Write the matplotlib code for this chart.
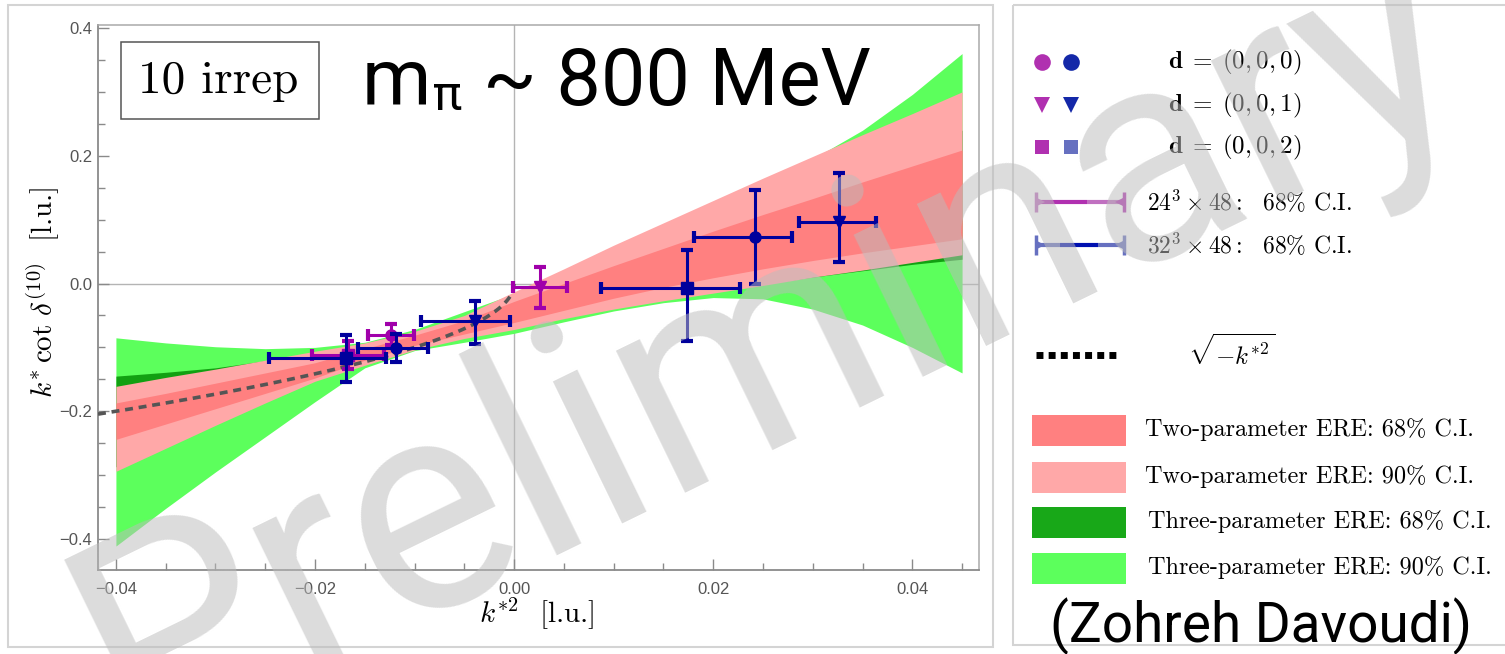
import numpy as np
import matplotlib
matplotlib.use('Agg')
import matplotlib.pyplot as plt
from matplotlib.patches import Rectangle
from matplotlib.ticker import MultipleLocator

plt.rcParams['mathtext.fontset'] = 'cm'

# k*^2 grid on which the ERE confidence bands are tabulated
k2_band = [-0.04, -0.035, -0.03, -0.025, -0.02, -0.015, -0.01, -0.005, 0.0,
           0.005, 0.01, 0.015, 0.02, 0.025, 0.03, 0.035, 0.04, 0.045]

# two-parameter ERE bands
ere2_68_hi = [-0.187, -0.172, -0.156, -0.140, -0.124, -0.102, -0.081, -0.058, -0.028,
              0.000, 0.028, 0.055, 0.082, 0.108, 0.133, 0.159, 0.184, 0.209]
ere2_68_lo = [-0.244, -0.220, -0.196, -0.172, -0.148, -0.120, -0.097, -0.079, -0.061,
              -0.042, -0.023, -0.006, 0.009, 0.023, 0.036, 0.048, 0.059, 0.070]
ere2_90_hi = [-0.161, -0.147, -0.134, -0.120, -0.106, -0.093, -0.075, -0.050, -0.013,
              0.023, 0.060, 0.095, 0.130, 0.165, 0.199, 0.233, 0.266, 0.300]
ere2_90_lo = [-0.294, -0.258, -0.222, -0.187, -0.153, -0.128, -0.104, -0.086, -0.072,
              -0.055, -0.040, -0.027, -0.015, -0.003, 0.010, 0.021, 0.033, 0.045]

# three-parameter ERE bands
ere3_68_hi = [-0.145, -0.139, -0.132, -0.121, -0.112, -0.098, -0.078, -0.052, -0.024,
              0.004, 0.033, 0.062, 0.092, 0.122, 0.152, 0.182, 0.212, 0.240]
ere3_68_lo = [-0.287, -0.252, -0.217, -0.183, -0.150, -0.122, -0.100, -0.083, -0.068,
              -0.054, -0.038, -0.024, -0.012, -0.001, 0.010, 0.020, 0.030, 0.038]
ere3_90_hi = [-0.085, -0.093, -0.099, -0.102, -0.100, -0.092, -0.072, -0.044, -0.016,
              0.015, 0.048, 0.082, 0.118, 0.155, 0.195, 0.240, 0.296, 0.360]
ere3_90_lo = [-0.411, -0.352, -0.295, -0.240, -0.185, -0.132, -0.105, -0.092, -0.078,
              -0.060, -0.043, -0.030, -0.022, -0.024, -0.040, -0.065, -0.100, -0.140]

# 24^3 x 48 ensemble
m_k2 = [-0.0167, -0.0124, 0.0026]
m_kcot = [-0.1125, -0.080, -0.006]
m_k2_err = [0.0036, 0.0023, 0.0027]
m_kcot_err = [0.022, 0.017, 0.032]
m_marker = ['s', 'o', 'v']

# 32^3 x 48 ensemble
b_k2 = [-0.0169, -0.0119, -0.0039, 0.0174, 0.0242, 0.0326]
b_kcot = [-0.117, -0.1016, -0.059, -0.0075, 0.0734, 0.097]
b_k2_lo = [0.0077, 0.0038, 0.0055, 0.0087, 0.0061, 0.0040]
b_k2_hi = [0.0040, 0.0032, 0.0035, 0.0053, 0.0037, 0.0038]
b_kcot_lo = [0.037, 0.021, 0.035, 0.082, 0.0734, 0.064]
b_kcot_hi = [0.037, 0.023, 0.031, 0.060, 0.0734, 0.076]
b_marker = ['s', 'o', 'v', 's', 'o', 'v']

xtick_vals = [-0.04, -0.02, 0.0, 0.02, 0.04]
xtick_labels = ['\u22120.04', '\u22120.02', '0.00', '0.02', '0.04']
ytick_vals = [-0.4, -0.2, 0.0, 0.2, 0.4]
ytick_labels = ['\u22120.4', '\u22120.2', '0.0', '0.2', '0.4']

c_red = '#ff8080'
c_pink = '#ffa8a8'
c_dgreen = '#12a012'
c_lgreen = '#5cff5c'
c_mag = '#a000aa'
c_blue = '#00009c'

sans = 'Roboto'

W, H = 1505, 654
fig = plt.figure(figsize=(W / 100, H / 100), dpi=100)

ax = fig.add_axes([98 / W, 1 - 570 / H, (979 - 98) / W, (570 - 25) / H])
ax.set_xlim(-0.0418, 0.0467)
ax.set_ylim(-0.4485, 0.4047)

ax.fill_between(k2_band, ere3_90_lo, ere3_90_hi, color=c_lgreen, lw=0, zorder=1)
ax.fill_between(k2_band, ere3_68_lo, ere3_68_hi, color=c_dgreen, lw=0, zorder=1.1)
ax.fill_between(k2_band, ere2_90_lo, ere2_90_hi, color=c_pink, lw=0, zorder=1.2)
ax.fill_between(k2_band, ere2_68_lo, ere2_68_hi, color=c_red, lw=0, zorder=1.3)

ax.axhline(0, color='#b4b4b4', lw=1, zorder=0.5)
ax.axvline(0, color='#b4b4b4', lw=1, zorder=0.5)

# -sqrt(-k^2) curve below threshold
kk = np.linspace(-0.0418, 0.0, 300)
ax.plot(kk, -np.sqrt(-kk), color='#555555', lw=2.6, dashes=[2.2, 1.6], zorder=3)

for x, y, xe, ye, mk in zip(m_k2, m_kcot, m_k2_err, m_kcot_err, m_marker):
    ax.errorbar(x, y, xerr=xe, yerr=ye, fmt=mk, color=c_mag, ms=8,
                elinewidth=2.2, capsize=4, capthick=3, zorder=4)
for i in range(len(b_k2)):
    ax.errorbar(b_k2[i], b_kcot[i], xerr=[[b_k2_lo[i]], [b_k2_hi[i]]],
                yerr=[[b_kcot_lo[i]], [b_kcot_hi[i]]], fmt=b_marker[i], color=c_blue,
                ms=8, elinewidth=2.2, capsize=4, capthick=3, zorder=5)

ax.set_xticks(xtick_vals)
ax.set_xticklabels(xtick_labels)
ax.set_yticks(ytick_vals)
ax.set_yticklabels(ytick_labels)
ax.xaxis.set_minor_locator(MultipleLocator(0.005))
ax.yaxis.set_minor_locator(MultipleLocator(0.05))
ax.tick_params(which='both', direction='in', color='#8a8a8a', width=1,
               top=False, right=False, labelsize=12, labelcolor='#555555')
ax.tick_params(which='major', length=8)
ax.tick_params(which='minor', length=5)
ax.tick_params(axis='x', pad=9)
ax.tick_params(axis='y', pad=4)
for lab in ax.get_xticklabels() + ax.get_yticklabels():
    lab.set_family('Liberation Sans')
for s in ['left', 'bottom']:
    ax.spines[s].set_color('#8a8a8a')
    ax.spines[s].set_linewidth(1.3)
for s in ['top', 'right']:
    ax.spines[s].set_color('#aaaaaa')
    ax.spines[s].set_linewidth(1.1)

# overlay in pixel coordinates for annotations and the legend panel
ov = fig.add_axes([0, 0, 1, 1], zorder=10)
ov.set_xlim(0, W)
ov.set_ylim(H, 0)
ov.axis('off')
ov.patch.set_alpha(0)

ov.add_patch(Rectangle((8, 5), 985, 642, fill=False, ec='#d4d4d4', lw=1.5))
ov.add_patch(Rectangle((1013, 5), 500, 640, fill=False, ec='#d4d4d4', lw=1.5))

ov.text(537, 613, r'$k^{*2}$  [l.u.]', family='cmr10', fontsize=21,
        ha='center', va='center')
ov.text(43, 292, r'$k^{*}\,\cot\,\delta^{(10)}$  [l.u.]', family='cmr10',
        fontsize=21, rotation=90, ha='center', va='center')

ov.add_patch(Rectangle((121, 42), 198, 77, fill=False, ec='#555555', lw=1.1))
ov.text(218, 93, '10 irrep', family='cmr10', fontsize=34, ha='center', va='baseline')

ov.text(362, 105, 'm', family=sans, fontsize=57, va='baseline')
ov.text(433, 110, '\u03c0', family=sans, fontsize=35, va='baseline')
ov.text(483, 105, '~ 800 MeV', family=sans, fontsize=57, va='baseline')

# legend panel
leg_mag = '#b030b0'
leg_blue = '#1428a8'
leg_lblue = '#6670c0'
ov.plot([1042], [62], 'o', color=leg_mag, ms=12, mew=0)
ov.plot([1071], [62], 'o', color=leg_blue, ms=12, mew=0)
ov.plot([1042], [105], 'v', color=leg_mag, ms=11, mew=0)
ov.plot([1071], [105], 'v', color=leg_blue, ms=11, mew=0)
ov.plot([1042], [147], 's', color=leg_mag, ms=9.5, mew=0)
ov.plot([1071], [147], 's', color=leg_lblue, ms=9.5, mew=0)
ov.text(1168, 62, r'$\mathbf{d}\;=\;(0,0,0)$', fontsize=18, va='center')
ov.text(1168, 105, r'$\mathbf{d}\;=\;(0,0,1)$', fontsize=18, va='center')
ov.text(1168, 147, r'$\mathbf{d}\;=\;(0,0,2)$', fontsize=18, va='center')

ov.plot([1036, 1087], [202, 202], color=leg_mag, lw=3, solid_capstyle='butt')
ov.plot([1087, 1124], [202, 202], color='#c070c0', lw=3, solid_capstyle='butt')
ov.plot([1036], [202], '|', color='#c070c0', ms=14, mew=2.5)
ov.plot([1040], [202], '>', color='#c070c0', ms=7, mew=0)
ov.plot([1124], [202], '|', color=leg_mag, ms=14, mew=2.5)
ov.plot([1120], [202], '<', color=leg_mag, ms=7, mew=0)
ov.text(1147, 202, r'$24^3\times48:$  68% C.I.', family='cmr10', fontsize=17,
        va='center')

ov.plot([1036, 1060], [245, 245], color=leg_lblue, lw=3, solid_capstyle='butt')
ov.plot([1060, 1098], [245, 245], color='#0010b0', lw=3, solid_capstyle='butt')
ov.plot([1098, 1124], [245, 245], color=leg_lblue, lw=3, solid_capstyle='butt')
ov.plot([1036], [245], '|', color=leg_lblue, ms=14, mew=2.5)
ov.plot([1040], [245], '>', color=leg_lblue, ms=7, mew=0)
ov.plot([1124], [245], '|', color=leg_lblue, ms=14, mew=2.5)
ov.plot([1120], [245], '<', color=leg_lblue, ms=7, mew=0)
ov.text(1147, 245, r'$32^3\times48:$  68% C.I.', family='cmr10', fontsize=17,
        va='center')

ov.plot([1036, 1118], [355, 355], color='black', lw=5, dashes=[1.0, 0.75],
        dash_capstyle='butt')
ov.text(1188, 352, r'$\sqrt{-k^{*2}}$', fontsize=18, va='center')

band_rows = [(430, c_red, 'Two-parameter ERE: 68% C.I.', 1145),
             (477, c_pink, 'Two-parameter ERE: 90% C.I.', 1145),
             (522, '#18a818', 'Three-parameter ERE: 68% C.I.', 1148),
             (568, c_lgreen, 'Three-parameter ERE: 90% C.I.', 1148)]
for yc, col, txt, xt in band_rows:
    ov.add_patch(Rectangle((1032, yc - 15.5), 94, 31, fc=col, ec='none'))
    ov.text(xt, yc, txt, family='cmr10', fontsize=17.5, va='center')

ov.text(1050, 642, '(Zohreh Davoudi)', family=sans, fontsize=39.5,
        va='baseline')

ov.text(770, 350, 'Preliminary', family=sans, fontsize=215,
        rotation=26, rotation_mode='anchor', ha='center', va='center',
        color='#bcbcbc', alpha=0.52, zorder=20)

fig.savefig('out.png', dpi=100)
